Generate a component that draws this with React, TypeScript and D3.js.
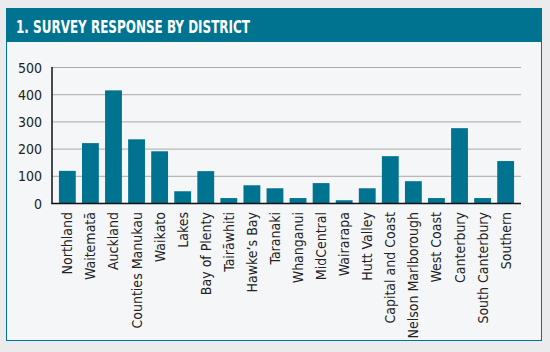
import React from "react";
import * as d3 from "d3";

// survey responses per district
const districts = [
  "Northland",
  "Waitematā",
  "Auckland",
  "Counties Manukau",
  "Waikato",
  "Lakes",
  "Bay of Plenty",
  "Tairāwhiti",
  "Hawke’s Bay",
  "Taranaki",
  "Whanganui",
  "MidCentral",
  "Wairarapa",
  "Hutt Valley",
  "Capital and Coast",
  "Nelson Marlborough",
  "West Coast",
  "Canterbury",
  "South Canterbury",
  "Southern",
];
const responses = [120, 222, 416, 236, 192, 45, 119, 20, 67, 56, 20, 75, 12, 56, 174, 82, 20, 277, 20, 156];
const yTicks = [0, 100, 200, 300, 400, 500];

const W = 550;
const H = 352;
const TEAL = "#007391";
const FONT = "'Liberation Sans Narrow', 'DejaVu Sans Condensed', 'Roboto Condensed', sans-serif";

export default function App() {
  const x = d3
    .scaleBand<string>()
    .domain(districts)
    .range([52, 521])
    .paddingInner(0.27)
    .paddingOuter(0.3);
  const y = d3.scaleLinear().domain([0, 500]).range([203.5, 67.5]);

  return (
    <svg
      width={W}
      height={H}
      style={{ position: "fixed", left: 0, top: 0, display: "block" }}
      fontFamily={FONT}
    >
      {/* page background */}
      <rect x={0} y={0} width={W} height={H} fill="#ebebee" />
      {/* panel */}
      <rect x={6.5} y={8.5} width={535} height={332} fill="#f5f6f8" stroke={TEAL} strokeWidth={1} />
      {/* header bar */}
      <rect x={6} y={8} width={536} height={34} fill={TEAL} />
      <text
        x={16}
        y={32.5}
        fill="#fff"
        fontSize={18}
        fontWeight={700}
        textLength={234}
        lengthAdjust="spacingAndGlyphs"
      >
        1. SURVEY RESPONSE BY DISTRICT
      </text>

      {/* gridlines */}
      {yTicks
        .filter((t) => t > 0)
        .map((t) => (
          <line key={t} x1={52} x2={521} y1={y(t)} y2={y(t)} stroke="#a9a9ab" strokeWidth={1} />
        ))}

      {/* y tick labels */}
      {yTicks.map((t) => (
        <text key={t} x={42} y={y(t) + 5} textAnchor="end" fontSize={14} fill="#222">
          {t}
        </text>
      ))}

      {/* bars */}
      {districts.map((d, i) => (
        <rect
          key={d}
          x={x(d)}
          y={y(responses[i])}
          width={x.bandwidth()}
          height={y(0) - y(responses[i])}
          fill={TEAL}
        />
      ))}

      {/* axes */}
      <line x1={52} x2={52} y1={67} y2={204} stroke="#111" strokeWidth={1.5} />
      <line x1={51.5} x2={521} y1={203.5} y2={203.5} stroke="#111" strokeWidth={1.5} />

      {/* category labels */}
      {districts.map((d) => {
        const cx = (x(d) ?? 0) + x.bandwidth() / 2 + 5;
        return (
          <text
            key={d}
            transform={`translate(${cx},212) rotate(-90)`}
            textAnchor="end"
            fontSize={14}
            fill="#222"
          >
            {d}
          </text>
        );
      })}
    </svg>
  );
}
